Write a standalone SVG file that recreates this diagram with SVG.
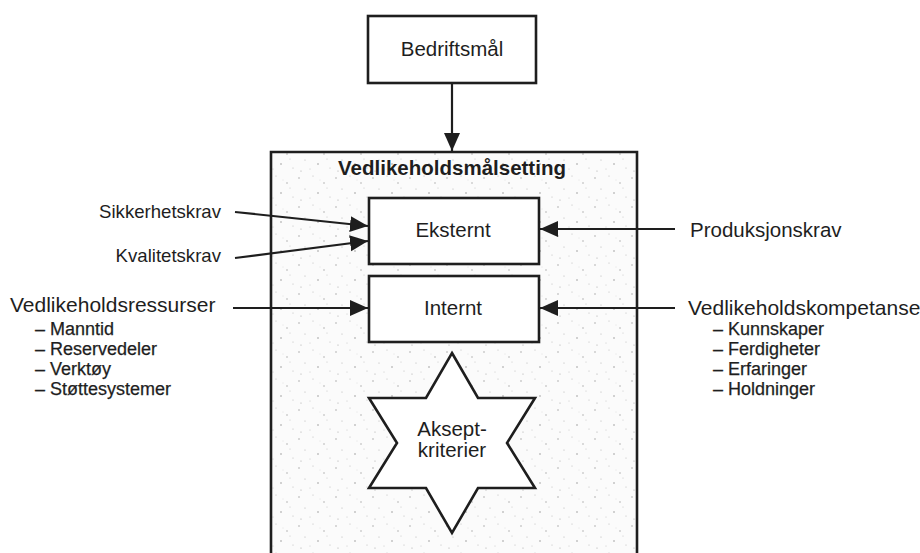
<svg xmlns="http://www.w3.org/2000/svg" width="920" height="553" viewBox="0 0 920 553">
  <style>
    .box { fill: #ffffff; stroke: #1e1e1e; stroke-width: 2.6; }
    .frame { stroke: #1e1e1e; stroke-width: 2.6; }
    .link { fill: none; stroke: #1e1e1e; stroke-width: 2.2; }
    text { font-family: "Liberation Sans", Arial, sans-serif; fill: #1e1e1e; }
    .lbl { font-size: 20.5px; }
    .side { font-size: 18.6px; }
    .head { font-size: 21px; }
    .item { font-size: 18px; stroke: #1e1e1e; stroke-width: 0.25; }
    .title { font-size: 20.5px; font-weight: bold; }
  </style>
  <defs>
    <marker id="arrow" markerUnits="userSpaceOnUse" markerWidth="20" markerHeight="18" refX="18" refY="8" orient="auto">
      <path d="M0,0 L18,8 L0,16 Z" fill="#1e1e1e"/>
    </marker>
    <pattern id="grain" width="37" height="29" patternUnits="userSpaceOnUse">
      <rect width="37" height="29" fill="#fbfbfb"/>
      <circle cx="3" cy="4" r="0.7" fill="#9a9a9a"/>
      <circle cx="17" cy="2" r="0.5" fill="#b0b0b0"/>
      <circle cx="28" cy="9" r="0.7" fill="#a0a0a0"/>
      <circle cx="9" cy="15" r="0.6" fill="#b5b5b5"/>
      <circle cx="22" cy="19" r="0.8" fill="#9c9c9c"/>
      <circle cx="34" cy="23" r="0.5" fill="#b0b0b0"/>
      <circle cx="5" cy="26" r="0.6" fill="#a8a8a8"/>
      <circle cx="14" cy="24" r="0.5" fill="#c0c0c0"/>
      <circle cx="31" cy="14" r="0.5" fill="#bcbcbc"/>
      <circle cx="24" cy="6" r="0.4" fill="#c4c4c4"/>
    </pattern>
  </defs>

  <rect width="920" height="553" fill="#ffffff"/>

  <!-- outer frame, open at the bottom -->
  <g id="vedlikeholdsmalsetting">
    <rect x="271" y="152" width="366" height="410" fill="url(#grain)"/>
    <path class="frame" fill="none" d="M271,560 L271,152 L637,152 L637,560"/>
    <text class="title" x="452" y="175" text-anchor="middle">Vedlikeholdsmålsetting</text>
  </g>

  <g id="bedriftsmal">
    <rect class="box" x="368" y="16" width="168" height="67"/>
    <text class="lbl" x="452" y="56" text-anchor="middle">Bedriftsmål</text>
  </g>

  <g id="eksternt">
    <rect class="box" x="369" y="198" width="170" height="66"/>
    <text class="lbl" x="453" y="237" text-anchor="middle">Eksternt</text>
  </g>

  <g id="internt">
    <rect class="box" x="369" y="276" width="170" height="66"/>
    <text class="lbl" x="453" y="315" text-anchor="middle">Internt</text>
  </g>

  <g id="akseptkriterier">
    <polygon class="box" points="452,353 478,398 535,398 507,443 535,488 478,488 452,533 426,488 369,488 397,443 369,398 426,398"/>
    <text class="lbl" x="452" y="436" text-anchor="middle">Aksept-</text>
    <text class="lbl" x="452" y="457" text-anchor="middle">kriterier</text>
  </g>

  <g id="sikkerhetskrav">
    <text class="side" x="221" y="218" text-anchor="end">Sikkerhetskrav</text>
  </g>
  <g id="kvalitetskrav">
    <text class="side" x="221" y="262" text-anchor="end">Kvalitetskrav</text>
  </g>
  <g id="vedlikeholdsressurser">
    <text class="head" x="10" y="312">Vedlikeholdsressurser</text>
    <text class="item" x="35" y="335">– Manntid</text>
    <text class="item" x="35" y="355">– Reservedeler</text>
    <text class="item" x="35" y="375">– Verktøy</text>
    <text class="item" x="35" y="395">– Støttesystemer</text>
  </g>
  <g id="produksjonskrav">
    <text class="lbl" x="690" y="237">Produksjonskrav</text>
  </g>
  <g id="vedlikeholdskompetanse">
    <text class="head" x="688" y="315">Vedlikeholdskompetanse</text>
    <text class="item" x="713" y="335">– Kunnskaper</text>
    <text class="item" x="713" y="355">– Ferdigheter</text>
    <text class="item" x="713" y="375">– Erfaringer</text>
    <text class="item" x="713" y="395">– Holdninger</text>
  </g>

  <g id="connectors">
    <line class="link" x1="452" y1="83" x2="452" y2="151" marker-end="url(#arrow)"/>
    <line class="link" x1="235" y1="212" x2="368" y2="226" marker-end="url(#arrow)"/>
    <line class="link" x1="235" y1="258" x2="368" y2="241" marker-end="url(#arrow)"/>
    <line class="link" x1="233" y1="308" x2="368" y2="308" marker-end="url(#arrow)"/>
    <line class="link" x1="675" y1="229" x2="540" y2="229" marker-end="url(#arrow)"/>
    <line class="link" x1="675" y1="308" x2="540" y2="308" marker-end="url(#arrow)"/>
  </g>
</svg>
